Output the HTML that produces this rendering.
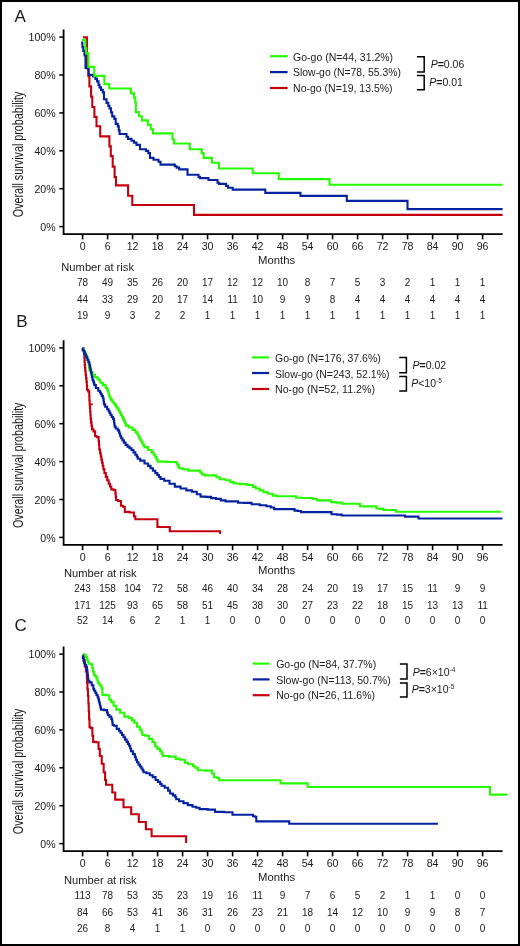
<!DOCTYPE html>
<html><head><meta charset="utf-8"><style>
html,body{margin:0;padding:0;background:#fff;}
svg text{font-family:"Liberation Sans", sans-serif;fill:#1a1a1a;}
svg{will-change:transform;}
</style></head><body>
<svg width="520" height="946" viewBox="0 0 520 946" style="display:block">
<rect x="0" y="0" width="520" height="946" fill="#fff"/>
<rect x="1" y="1" width="518" height="944" fill="none" stroke="#000" stroke-width="2"/>
<g>
<text x="14.60" y="21.80" font-size="17" text-anchor="start" >A</text>
<path d="M63.6 29.40 V234.10 H502.6" fill="none" stroke="#000" stroke-width="1.8"/>
<path d="M59.3 37.10 H63.6" stroke="#000" stroke-width="1.5"/>
<text x="55.60" y="41.40" font-size="10.6" text-anchor="end" >100%</text>
<path d="M59.3 75.00 H63.6" stroke="#000" stroke-width="1.5"/>
<text x="55.60" y="79.30" font-size="10.6" text-anchor="end" >80%</text>
<path d="M59.3 112.90 H63.6" stroke="#000" stroke-width="1.5"/>
<text x="55.60" y="117.20" font-size="10.6" text-anchor="end" >60%</text>
<path d="M59.3 150.80 H63.6" stroke="#000" stroke-width="1.5"/>
<text x="55.60" y="155.10" font-size="10.6" text-anchor="end" >40%</text>
<path d="M59.3 188.70 H63.6" stroke="#000" stroke-width="1.5"/>
<text x="55.60" y="193.00" font-size="10.6" text-anchor="end" >20%</text>
<path d="M59.3 226.60 H63.6" stroke="#000" stroke-width="1.5"/>
<text x="55.60" y="230.90" font-size="10.6" text-anchor="end" >0%</text>
<path d="M82.60 234.10 V239.40" stroke="#000" stroke-width="1.6"/>
<text x="82.60" y="250.10" font-size="10.6" text-anchor="middle" >0</text>
<path d="M107.60 234.10 V239.40" stroke="#000" stroke-width="1.6"/>
<text x="107.60" y="250.10" font-size="10.6" text-anchor="middle" >6</text>
<path d="M132.60 234.10 V239.40" stroke="#000" stroke-width="1.6"/>
<text x="132.60" y="250.10" font-size="10.6" text-anchor="middle" >12</text>
<path d="M157.60 234.10 V239.40" stroke="#000" stroke-width="1.6"/>
<text x="157.60" y="250.10" font-size="10.6" text-anchor="middle" >18</text>
<path d="M182.60 234.10 V239.40" stroke="#000" stroke-width="1.6"/>
<text x="182.60" y="250.10" font-size="10.6" text-anchor="middle" >24</text>
<path d="M207.60 234.10 V239.40" stroke="#000" stroke-width="1.6"/>
<text x="207.60" y="250.10" font-size="10.6" text-anchor="middle" >30</text>
<path d="M232.60 234.10 V239.40" stroke="#000" stroke-width="1.6"/>
<text x="232.60" y="250.10" font-size="10.6" text-anchor="middle" >36</text>
<path d="M257.60 234.10 V239.40" stroke="#000" stroke-width="1.6"/>
<text x="257.60" y="250.10" font-size="10.6" text-anchor="middle" >42</text>
<path d="M282.60 234.10 V239.40" stroke="#000" stroke-width="1.6"/>
<text x="282.60" y="250.10" font-size="10.6" text-anchor="middle" >48</text>
<path d="M307.60 234.10 V239.40" stroke="#000" stroke-width="1.6"/>
<text x="307.60" y="250.10" font-size="10.6" text-anchor="middle" >54</text>
<path d="M332.60 234.10 V239.40" stroke="#000" stroke-width="1.6"/>
<text x="332.60" y="250.10" font-size="10.6" text-anchor="middle" >60</text>
<path d="M357.60 234.10 V239.40" stroke="#000" stroke-width="1.6"/>
<text x="357.60" y="250.10" font-size="10.6" text-anchor="middle" >66</text>
<path d="M382.60 234.10 V239.40" stroke="#000" stroke-width="1.6"/>
<text x="382.60" y="250.10" font-size="10.6" text-anchor="middle" >72</text>
<path d="M407.60 234.10 V239.40" stroke="#000" stroke-width="1.6"/>
<text x="407.60" y="250.10" font-size="10.6" text-anchor="middle" >78</text>
<path d="M432.60 234.10 V239.40" stroke="#000" stroke-width="1.6"/>
<text x="432.60" y="250.10" font-size="10.6" text-anchor="middle" >84</text>
<path d="M457.60 234.10 V239.40" stroke="#000" stroke-width="1.6"/>
<text x="457.60" y="250.10" font-size="10.6" text-anchor="middle" >90</text>
<path d="M482.60 234.10 V239.40" stroke="#000" stroke-width="1.6"/>
<text x="482.60" y="250.10" font-size="10.6" text-anchor="middle" >96</text>
<text x="258.10" y="263.60" font-size="10.6" text-anchor="start" textLength="37.10" lengthAdjust="spacingAndGlyphs" >Months</text>
<text transform="translate(22.8 217.20) rotate(-90)" font-size="14" textLength="125.5" lengthAdjust="spacingAndGlyphs">Overall survival probability</text>
<text x="61.30" y="270.90" font-size="10.6" text-anchor="start" textLength="72.70" lengthAdjust="spacingAndGlyphs" >Number at risk</text>
<text x="82.60" y="285.90" font-size="10.0" text-anchor="middle" >78</text>
<text x="107.60" y="285.90" font-size="10.0" text-anchor="middle" >49</text>
<text x="132.60" y="285.90" font-size="10.0" text-anchor="middle" >35</text>
<text x="157.60" y="285.90" font-size="10.0" text-anchor="middle" >26</text>
<text x="182.60" y="285.90" font-size="10.0" text-anchor="middle" >20</text>
<text x="207.60" y="285.90" font-size="10.0" text-anchor="middle" >17</text>
<text x="232.60" y="285.90" font-size="10.0" text-anchor="middle" >12</text>
<text x="257.60" y="285.90" font-size="10.0" text-anchor="middle" >12</text>
<text x="282.60" y="285.90" font-size="10.0" text-anchor="middle" >10</text>
<text x="307.60" y="285.90" font-size="10.0" text-anchor="middle" >8</text>
<text x="332.60" y="285.90" font-size="10.0" text-anchor="middle" >7</text>
<text x="357.60" y="285.90" font-size="10.0" text-anchor="middle" >5</text>
<text x="382.60" y="285.90" font-size="10.0" text-anchor="middle" >3</text>
<text x="407.60" y="285.90" font-size="10.0" text-anchor="middle" >2</text>
<text x="432.60" y="285.90" font-size="10.0" text-anchor="middle" >1</text>
<text x="457.60" y="285.90" font-size="10.0" text-anchor="middle" >1</text>
<text x="482.60" y="285.90" font-size="10.0" text-anchor="middle" >1</text>
<text x="82.60" y="303.40" font-size="10.0" text-anchor="middle" >44</text>
<text x="107.60" y="303.40" font-size="10.0" text-anchor="middle" >33</text>
<text x="132.60" y="303.40" font-size="10.0" text-anchor="middle" >29</text>
<text x="157.60" y="303.40" font-size="10.0" text-anchor="middle" >20</text>
<text x="182.60" y="303.40" font-size="10.0" text-anchor="middle" >17</text>
<text x="207.60" y="303.40" font-size="10.0" text-anchor="middle" >14</text>
<text x="232.60" y="303.40" font-size="10.0" text-anchor="middle" >11</text>
<text x="257.60" y="303.40" font-size="10.0" text-anchor="middle" >10</text>
<text x="282.60" y="303.40" font-size="10.0" text-anchor="middle" >9</text>
<text x="307.60" y="303.40" font-size="10.0" text-anchor="middle" >9</text>
<text x="332.60" y="303.40" font-size="10.0" text-anchor="middle" >8</text>
<text x="357.60" y="303.40" font-size="10.0" text-anchor="middle" >4</text>
<text x="382.60" y="303.40" font-size="10.0" text-anchor="middle" >4</text>
<text x="407.60" y="303.40" font-size="10.0" text-anchor="middle" >4</text>
<text x="432.60" y="303.40" font-size="10.0" text-anchor="middle" >4</text>
<text x="457.60" y="303.40" font-size="10.0" text-anchor="middle" >4</text>
<text x="482.60" y="303.40" font-size="10.0" text-anchor="middle" >4</text>
<text x="82.60" y="319.00" font-size="10.0" text-anchor="middle" >19</text>
<text x="107.60" y="319.00" font-size="10.0" text-anchor="middle" >9</text>
<text x="132.60" y="319.00" font-size="10.0" text-anchor="middle" >3</text>
<text x="157.60" y="319.00" font-size="10.0" text-anchor="middle" >2</text>
<text x="182.60" y="319.00" font-size="10.0" text-anchor="middle" >2</text>
<text x="207.60" y="319.00" font-size="10.0" text-anchor="middle" >1</text>
<text x="232.60" y="319.00" font-size="10.0" text-anchor="middle" >1</text>
<text x="257.60" y="319.00" font-size="10.0" text-anchor="middle" >1</text>
<text x="282.60" y="319.00" font-size="10.0" text-anchor="middle" >1</text>
<text x="307.60" y="319.00" font-size="10.0" text-anchor="middle" >1</text>
<text x="332.60" y="319.00" font-size="10.0" text-anchor="middle" >1</text>
<text x="357.60" y="319.00" font-size="10.0" text-anchor="middle" >1</text>
<text x="382.60" y="319.00" font-size="10.0" text-anchor="middle" >1</text>
<text x="407.60" y="319.00" font-size="10.0" text-anchor="middle" >1</text>
<text x="432.60" y="319.00" font-size="10.0" text-anchor="middle" >1</text>
<text x="457.60" y="319.00" font-size="10.0" text-anchor="middle" >1</text>
<text x="482.60" y="319.00" font-size="10.0" text-anchor="middle" >1</text>
<path d="M270.0 56.2 H287.6" stroke="#26fc00" stroke-width="2.2"/>
<text x="293.10" y="60.50" font-size="10.5" text-anchor="start" textLength="100.00" lengthAdjust="spacingAndGlyphs" >Go-go (N=44, 31.2%)</text>
<path d="M270.0 72.1 H287.6" stroke="#0522a0" stroke-width="2.2"/>
<text x="293.10" y="76.10" font-size="10.5" text-anchor="start" textLength="107.80" lengthAdjust="spacingAndGlyphs" >Slow-go (N=78, 55.3%)</text>
<path d="M270.0 88.0 H287.6" stroke="#c4000f" stroke-width="2.2"/>
<text x="293.10" y="91.80" font-size="10.5" text-anchor="start" textLength="99.50" lengthAdjust="spacingAndGlyphs" >No-go (N=19, 13.5%)</text>
<path d="M416.9 56.8 H424.2 V71.9 H416.9" fill="none" stroke="#000" stroke-width="1.5"/>
<path d="M416.9 75.4 H424.2 V89.7 H416.9" fill="none" stroke="#000" stroke-width="1.5"/>
<text x="430.7" y="67.7" font-size="10.5"><tspan font-style="italic">P</tspan><tspan font-weight="bold">=</tspan><tspan>0.06</tspan></text>
<text x="429.3" y="85.5" font-size="10.5"><tspan font-style="italic">P</tspan><tspan font-weight="bold">=</tspan><tspan>0.01</tspan></text>
<g transform="translate(0 0.4)">
<path d="M83 37 H87 V68 H88.5 V76 H89.4 V86 H91.1 V96.2 H92.3 V106.6 H94.4 V116.5 H96.5 V125.8 H100.2 V136 H109.4 V146 H110.8 V155.7 H112.7 V166.2 H114.6 V176.7 H116 V185 H128.1 V195.3 H132.3 V204.6 H194 V214.5 H502.6" fill="none" stroke="#c4000f" stroke-width="2.1" stroke-linejoin="miter" stroke-linecap="butt"/>
<path d="M81.2 42.2 H82.4 V46.7 H83.3 V50.5 H84.5 V55 H85.5 V67.5 H88.5 V74.5 H93 V76 H95.5 V78.5 H97 V81 H98.5 V84.5 H99.5 V87 H101 V89.5 H102.8 V92 H104 V98.8 H106.5 V102.5 H108.3 V105.5 H109.5 V108 H111 V112 H112.2 V116 H114.3 V118.5 H115.7 V123.5 H117.8 V126 H118.8 V130 H119.6 V133.6 H126.5 V136.3 H128 V138.5 H131.5 V140.3 H134 V142.2 H136.5 V144.5 H140 V148.8 H146 V150.5 H148.3 V152.7 H150 V157.5 H153.5 V159.4 H158.5 V161.3 H160.5 V164.2 H174.8 V165.8 H176.7 V167.2 H179.2 V169 H187.5 V174.4 H198.5 V176.5 H200 V177.7 H208.5 V179.6 H217.5 V182.3 H219 V183.5 H226 V185.5 H228 V187.3 H232.7 V189.2 H265.3 V192.5 H300.5 V195.5 H346.8 V200.5 H407.5 V208.7 H502.6" fill="none" stroke="#0522a0" stroke-width="2.1" stroke-linejoin="miter" stroke-linecap="butt"/>
<path d="M81.8 39.6 H85.3 V48 H86.3 V53 H88.4 V66.5 H94.3 V75.5 H104.4 V83.7 H109.3 V88.1 H130.9 V93 H134 V97 H135.2 V102 H135.9 V111.7 H139 V115.8 H141.9 V120 H147.9 V124.5 H150.8 V128.8 H153 V133 H172.5 V138.8 H173.9 V143.1 H189.8 V148.8 H201.7 V152.7 H203.7 V157.5 H211.9 V162.3 H219 V168.1 H252.7 V172.9 H278.8 V178.7 H329.5 V184.3 H502.6" fill="none" stroke="#26fc00" stroke-width="2.1" stroke-linejoin="miter" stroke-linecap="butt"/>
</g>
</g>
<g>
<text x="16.20" y="327.00" font-size="17" text-anchor="start" >B</text>
<path d="M63.6 340.20 V544.90 H502.6" fill="none" stroke="#000" stroke-width="1.8"/>
<path d="M59.3 347.90 H63.6" stroke="#000" stroke-width="1.5"/>
<text x="55.60" y="352.20" font-size="10.6" text-anchor="end" >100%</text>
<path d="M59.3 385.80 H63.6" stroke="#000" stroke-width="1.5"/>
<text x="55.60" y="390.10" font-size="10.6" text-anchor="end" >80%</text>
<path d="M59.3 423.70 H63.6" stroke="#000" stroke-width="1.5"/>
<text x="55.60" y="428.00" font-size="10.6" text-anchor="end" >60%</text>
<path d="M59.3 461.60 H63.6" stroke="#000" stroke-width="1.5"/>
<text x="55.60" y="465.90" font-size="10.6" text-anchor="end" >40%</text>
<path d="M59.3 499.50 H63.6" stroke="#000" stroke-width="1.5"/>
<text x="55.60" y="503.80" font-size="10.6" text-anchor="end" >20%</text>
<path d="M59.3 537.40 H63.6" stroke="#000" stroke-width="1.5"/>
<text x="55.60" y="541.70" font-size="10.6" text-anchor="end" >0%</text>
<path d="M82.60 544.90 V550.20" stroke="#000" stroke-width="1.6"/>
<text x="82.60" y="560.90" font-size="10.6" text-anchor="middle" >0</text>
<path d="M107.60 544.90 V550.20" stroke="#000" stroke-width="1.6"/>
<text x="107.60" y="560.90" font-size="10.6" text-anchor="middle" >6</text>
<path d="M132.60 544.90 V550.20" stroke="#000" stroke-width="1.6"/>
<text x="132.60" y="560.90" font-size="10.6" text-anchor="middle" >12</text>
<path d="M157.60 544.90 V550.20" stroke="#000" stroke-width="1.6"/>
<text x="157.60" y="560.90" font-size="10.6" text-anchor="middle" >18</text>
<path d="M182.60 544.90 V550.20" stroke="#000" stroke-width="1.6"/>
<text x="182.60" y="560.90" font-size="10.6" text-anchor="middle" >24</text>
<path d="M207.60 544.90 V550.20" stroke="#000" stroke-width="1.6"/>
<text x="207.60" y="560.90" font-size="10.6" text-anchor="middle" >30</text>
<path d="M232.60 544.90 V550.20" stroke="#000" stroke-width="1.6"/>
<text x="232.60" y="560.90" font-size="10.6" text-anchor="middle" >36</text>
<path d="M257.60 544.90 V550.20" stroke="#000" stroke-width="1.6"/>
<text x="257.60" y="560.90" font-size="10.6" text-anchor="middle" >42</text>
<path d="M282.60 544.90 V550.20" stroke="#000" stroke-width="1.6"/>
<text x="282.60" y="560.90" font-size="10.6" text-anchor="middle" >48</text>
<path d="M307.60 544.90 V550.20" stroke="#000" stroke-width="1.6"/>
<text x="307.60" y="560.90" font-size="10.6" text-anchor="middle" >54</text>
<path d="M332.60 544.90 V550.20" stroke="#000" stroke-width="1.6"/>
<text x="332.60" y="560.90" font-size="10.6" text-anchor="middle" >60</text>
<path d="M357.60 544.90 V550.20" stroke="#000" stroke-width="1.6"/>
<text x="357.60" y="560.90" font-size="10.6" text-anchor="middle" >66</text>
<path d="M382.60 544.90 V550.20" stroke="#000" stroke-width="1.6"/>
<text x="382.60" y="560.90" font-size="10.6" text-anchor="middle" >72</text>
<path d="M407.60 544.90 V550.20" stroke="#000" stroke-width="1.6"/>
<text x="407.60" y="560.90" font-size="10.6" text-anchor="middle" >78</text>
<path d="M432.60 544.90 V550.20" stroke="#000" stroke-width="1.6"/>
<text x="432.60" y="560.90" font-size="10.6" text-anchor="middle" >84</text>
<path d="M457.60 544.90 V550.20" stroke="#000" stroke-width="1.6"/>
<text x="457.60" y="560.90" font-size="10.6" text-anchor="middle" >90</text>
<path d="M482.60 544.90 V550.20" stroke="#000" stroke-width="1.6"/>
<text x="482.60" y="560.90" font-size="10.6" text-anchor="middle" >96</text>
<text x="258.10" y="574.40" font-size="10.6" text-anchor="start" textLength="37.10" lengthAdjust="spacingAndGlyphs" >Months</text>
<text transform="translate(22.8 528.00) rotate(-90)" font-size="14" textLength="125.5" lengthAdjust="spacingAndGlyphs">Overall survival probability</text>
<text x="64.00" y="576.50" font-size="10.6" text-anchor="start" textLength="72.70" lengthAdjust="spacingAndGlyphs" >Number at risk</text>
<text x="82.60" y="591.50" font-size="10.0" text-anchor="middle" >243</text>
<text x="107.60" y="591.50" font-size="10.0" text-anchor="middle" >158</text>
<text x="132.60" y="591.50" font-size="10.0" text-anchor="middle" >104</text>
<text x="157.60" y="591.50" font-size="10.0" text-anchor="middle" >72</text>
<text x="182.60" y="591.50" font-size="10.0" text-anchor="middle" >58</text>
<text x="207.60" y="591.50" font-size="10.0" text-anchor="middle" >46</text>
<text x="232.60" y="591.50" font-size="10.0" text-anchor="middle" >40</text>
<text x="257.60" y="591.50" font-size="10.0" text-anchor="middle" >34</text>
<text x="282.60" y="591.50" font-size="10.0" text-anchor="middle" >28</text>
<text x="307.60" y="591.50" font-size="10.0" text-anchor="middle" >24</text>
<text x="332.60" y="591.50" font-size="10.0" text-anchor="middle" >20</text>
<text x="357.60" y="591.50" font-size="10.0" text-anchor="middle" >19</text>
<text x="382.60" y="591.50" font-size="10.0" text-anchor="middle" >17</text>
<text x="407.60" y="591.50" font-size="10.0" text-anchor="middle" >15</text>
<text x="432.60" y="591.50" font-size="10.0" text-anchor="middle" >11</text>
<text x="457.60" y="591.50" font-size="10.0" text-anchor="middle" >9</text>
<text x="482.60" y="591.50" font-size="10.0" text-anchor="middle" >9</text>
<text x="82.60" y="609.00" font-size="10.0" text-anchor="middle" >171</text>
<text x="107.60" y="609.00" font-size="10.0" text-anchor="middle" >125</text>
<text x="132.60" y="609.00" font-size="10.0" text-anchor="middle" >93</text>
<text x="157.60" y="609.00" font-size="10.0" text-anchor="middle" >65</text>
<text x="182.60" y="609.00" font-size="10.0" text-anchor="middle" >58</text>
<text x="207.60" y="609.00" font-size="10.0" text-anchor="middle" >51</text>
<text x="232.60" y="609.00" font-size="10.0" text-anchor="middle" >45</text>
<text x="257.60" y="609.00" font-size="10.0" text-anchor="middle" >38</text>
<text x="282.60" y="609.00" font-size="10.0" text-anchor="middle" >30</text>
<text x="307.60" y="609.00" font-size="10.0" text-anchor="middle" >27</text>
<text x="332.60" y="609.00" font-size="10.0" text-anchor="middle" >23</text>
<text x="357.60" y="609.00" font-size="10.0" text-anchor="middle" >22</text>
<text x="382.60" y="609.00" font-size="10.0" text-anchor="middle" >18</text>
<text x="407.60" y="609.00" font-size="10.0" text-anchor="middle" >15</text>
<text x="432.60" y="609.00" font-size="10.0" text-anchor="middle" >13</text>
<text x="457.60" y="609.00" font-size="10.0" text-anchor="middle" >13</text>
<text x="482.60" y="609.00" font-size="10.0" text-anchor="middle" >11</text>
<text x="82.60" y="624.40" font-size="10.0" text-anchor="middle" >52</text>
<text x="107.60" y="624.40" font-size="10.0" text-anchor="middle" >14</text>
<text x="132.60" y="624.40" font-size="10.0" text-anchor="middle" >6</text>
<text x="157.60" y="624.40" font-size="10.0" text-anchor="middle" >2</text>
<text x="182.60" y="624.40" font-size="10.0" text-anchor="middle" >1</text>
<text x="207.60" y="624.40" font-size="10.0" text-anchor="middle" >1</text>
<text x="232.60" y="624.40" font-size="10.0" text-anchor="middle" >0</text>
<text x="257.60" y="624.40" font-size="10.0" text-anchor="middle" >0</text>
<text x="282.60" y="624.40" font-size="10.0" text-anchor="middle" >0</text>
<text x="307.60" y="624.40" font-size="10.0" text-anchor="middle" >0</text>
<text x="332.60" y="624.40" font-size="10.0" text-anchor="middle" >0</text>
<text x="357.60" y="624.40" font-size="10.0" text-anchor="middle" >0</text>
<text x="382.60" y="624.40" font-size="10.0" text-anchor="middle" >0</text>
<text x="407.60" y="624.40" font-size="10.0" text-anchor="middle" >0</text>
<text x="432.60" y="624.40" font-size="10.0" text-anchor="middle" >0</text>
<text x="457.60" y="624.40" font-size="10.0" text-anchor="middle" >0</text>
<text x="482.60" y="624.40" font-size="10.0" text-anchor="middle" >0</text>
<path d="M252.0 357.4 H269.2" stroke="#26fc00" stroke-width="2.2"/>
<text x="275.00" y="361.80" font-size="10.5" text-anchor="start" textLength="105.70" lengthAdjust="spacingAndGlyphs" >Go-go (N=176, 37.6%)</text>
<path d="M252.0 373.0 H269.2" stroke="#0522a0" stroke-width="2.2"/>
<text x="275.00" y="377.80" font-size="10.5" text-anchor="start" textLength="114.50" lengthAdjust="spacingAndGlyphs" >Slow-go (N=243, 52.1%)</text>
<path d="M252.0 389.0 H269.2" stroke="#c4000f" stroke-width="2.2"/>
<text x="275.00" y="393.40" font-size="10.5" text-anchor="start" textLength="100.00" lengthAdjust="spacingAndGlyphs" >No-go (N=52, 11.2%)</text>
<path d="M399.2 357.6 H406.4 V372.8 H399.2" fill="none" stroke="#000" stroke-width="1.5"/>
<path d="M399.2 376.5 H406.4 V391.0 H399.2" fill="none" stroke="#000" stroke-width="1.5"/>
<text x="412.6" y="368.8" font-size="10.5"><tspan font-style="italic">P</tspan><tspan font-weight="bold">=</tspan><tspan>0.02</tspan></text>
<text x="411.2" y="386.6" font-size="10.5"><tspan font-style="italic">P</tspan><tspan><10</tspan><tspan font-size="6.5" dy="-4">-5</tspan></text>
<g transform="translate(0 0.4)">
<path d="M83.30 347.90 H83.55V350.70 H84.05V353.50 H84.30 H84.38V357.25 H84.52V361.00 H84.60 H84.75V364.50 H85.05V368.00 H85.20 H85.35V371.15 H85.65V374.30 H85.80 H86.03V377.75 H86.47V381.20 H86.70 H86.83V385.25 H87.08V389.30 H87.20 H88.20V391.00 H89.20 H89.28V395.50 H89.42V400.00 H89.50 H89.65V404.00 H89.80 H89.92V407.62 H90.17V411.25 H90.42V414.88 H90.67V418.50 H90.80 H91.05V422.00 H91.55V425.50 H92.05V429.00 H92.30 H93.45V431.00 H94.60 H95.10V435.80 H95.60 H97.05V436.70 H98.50 H98.65V440.57 H98.95V444.43 H99.25V448.30 H99.40 H99.60V449.60 H99.80 H100.12V452.80 H100.75V456.00 H101.38V459.20 H101.70 H102.03V462.40 H102.70V465.60 H103.37V468.80 H103.70 H104.40V472.65 H105.80V476.50 H106.50 H107.22V479.90 H108.68V483.30 H109.40 H110.03V486.15 H111.28V489.00 H111.90 H113.55V489.60 H115.20 H115.37V492.93 H115.70V496.27 H116.03V499.60 H116.20 H118.10V500.60 H120.00 H120.95V505.40 H121.90 H122.85V506.30 H123.80 H124.80V511.50 H125.80 H129.65V512.10 H133.50 H133.95V516.00 H134.40 H135.35V518.90 H136.30 H157.40 V526.60 H169.80 V530.90 H220.10 V533.50" fill="none" stroke="#c4000f" stroke-width="2.1" stroke-linejoin="miter" stroke-linecap="butt"/>
<path d="M82.80 348.20 H83.29V349.98 H84.26V351.75 H85.24V353.52 H86.21V355.30 H86.70 H86.98V357.20 H87.55V359.10 H88.12V361.00 H88.40 H88.54V363.18 H88.81V365.35 H89.09V367.52 H89.36V369.70 H89.50 H90.53V372.00 H92.57V374.30 H93.60 H95.05V376.60 H96.50 H97.35V378.35 H99.05V380.10 H99.90 H100.50V382.40 H101.10 H102.80V384.70 H104.50 H105.70V387.60 H106.90 H107.20V389.10 H107.80V390.60 H108.10 H108.42V392.83 H109.05V395.07 H109.68V397.30 H110.00 H110.72V399.23 H112.17V401.15 H113.62V403.07 H115.08V405.00 H115.80 H116.43V406.93 H117.70V408.87 H118.97V410.80 H119.60 H120.09V412.73 H121.06V414.65 H122.04V416.57 H123.01V418.50 H123.50 H123.97V420.73 H124.90V422.97 H125.83V425.20 H126.30 H128.75V427.10 H131.20 H132.62V429.50 H135.47V431.90 H136.90 H137.39V433.82 H138.36V435.75 H139.34V437.68 H140.31V439.60 H140.80 H141.33V441.38 H142.38V443.15 H143.43V444.93 H144.47V446.70 H145.00 H147.90V449.60 H150.80 H151.75V452.00 H153.65V454.40 H154.60 H155.22V456.67 H156.45V458.93 H157.68V461.20 H158.30 H166.90V461.60 H175.50 H176.10V462.10 H176.70 H177.18V464.03 H178.15V465.97 H179.12V467.90 H179.60 H182.50V468.80 H185.40 H188.30V470.20 H191.20 H199.60 H200.32V472.10 H201.78V474.00 H202.50 H204.40V475.00 H206.30 H215.00 H216.45V476.90 H217.90 H219.80V478.80 H221.70 H225.55V479.80 H229.40 H230.35V481.70 H231.30 H233.75V483.10 H236.20 H240.00V483.70 H243.80 H247.65V484.60 H251.50 H252.95V486.50 H254.40 H255.85V488.10 H257.30 H259.70V490.00 H262.10 H263.55V491.90 H265.00 H267.90V493.30 H270.80 H272.70V495.20 H274.60 H276.55V495.90 H278.50 H295.60 H296.10V497.40 H296.60 H302.45V497.60 H308.30 H312.50V498.60 H316.70 H317.25V500.00 H317.80 H330.50 H331.00V501.70 H331.50 H336.25V502.20 H341.00 H341.55V503.40 H342.10 H359.00 H360.10V506.00 H361.20 H376.00 H376.50V508.10 H377.00 H379.65V508.50 H382.30 H383.35V509.60 H384.40 H395.80 H396.15V511.40 H396.50 H501.50" fill="none" stroke="#26fc00" stroke-width="2.1" stroke-linejoin="miter" stroke-linecap="butt"/>
<path d="M82.00 347.90 H82.58V349.55 H83.72V351.20 H84.30 H84.70V353.13 H85.50V355.07 H86.30V357.00 H86.70 H87.28V359.30 H88.42V361.60 H89.00 H89.28V363.90 H89.82V366.20 H90.10 H90.30V368.13 H90.70V370.07 H91.10V372.00 H91.30 H91.50V374.30 H91.90V376.60 H92.10 H92.55V379.50 H93.00 H93.28V381.23 H93.85V382.97 H94.42V384.70 H94.70 H95.85V387.60 H97.00 H98.20V390.30 H99.40 H99.89V392.05 H100.86V393.80 H101.84V395.55 H102.81V397.30 H103.30 H103.45V399.53 H103.75V401.77 H104.05V404.00 H104.20 H105.17V406.40 H107.12V408.80 H108.10 H108.58V410.73 H109.55V412.67 H110.52V414.60 H111.00 H111.70V416.55 H113.10V418.50 H113.80 H113.92V420.43 H114.17V422.35 H114.42V424.27 H114.67V426.20 H114.80 H115.78V428.10 H117.72V430.00 H118.70 H119.02V431.93 H119.65V433.87 H120.28V435.80 H120.60 H121.20V437.90 H122.40V440.00 H123.00 H123.88V442.25 H125.62V444.50 H126.50 H127.50V446.20 H129.50V447.90 H131.50V449.60 H132.50 H133.45V452.00 H135.35V454.40 H136.30 H136.80V456.35 H137.80V458.30 H138.30 H140.20V460.20 H142.10 H144.50V463.10 H146.90 H148.10V465.50 H150.50V467.90 H151.70 H152.90V470.30 H155.30V472.70 H156.50 H157.30V474.63 H158.90V476.57 H160.50V478.50 H161.30 H164.20V480.40 H167.10 H169.50V483.30 H171.90 H174.80V486.20 H177.70 H180.60V488.10 H183.50 H186.35V490.00 H189.20 H192.00V491.30 H194.80 H196.75V493.80 H198.70 H200.60V496.20 H202.50 H205.85V496.50 H209.20 H211.15V497.70 H213.10 H215.95V498.50 H218.80 H220.75V500.00 H222.70 H225.60V501.00 H228.50 H236.20 H238.10V502.30 H240.00 H243.85V502.50 H247.70 H251.55V503.80 H255.40 H259.70V504.80 H264.00 H266.40V505.80 H268.80 H270.75V507.10 H272.70 H274.15V508.70 H275.60 H293.50 H294.55V510.20 H295.60 H297.70V510.60 H299.80 H300.85V511.70 H301.90 H330.50 H331.55V513.80 H332.60 H336.80V514.20 H341.00 H341.75V515.10 H342.50 H404.30 H405.00V516.20 H405.70 H418.50 V518.10 H502.50" fill="none" stroke="#0522a0" stroke-width="2.1" stroke-linejoin="miter" stroke-linecap="butt"/>
<path d="M89 404 H92.8" fill="none" stroke="#c4000f" stroke-width="1.8"/>
</g>
</g>
<g>
<text x="14.60" y="630.90" font-size="17" text-anchor="start" >C</text>
<path d="M63.6 646.40 V851.10 H502.6" fill="none" stroke="#000" stroke-width="1.8"/>
<path d="M59.3 654.10 H63.6" stroke="#000" stroke-width="1.5"/>
<text x="55.60" y="658.40" font-size="10.6" text-anchor="end" >100%</text>
<path d="M59.3 692.00 H63.6" stroke="#000" stroke-width="1.5"/>
<text x="55.60" y="696.30" font-size="10.6" text-anchor="end" >80%</text>
<path d="M59.3 729.90 H63.6" stroke="#000" stroke-width="1.5"/>
<text x="55.60" y="734.20" font-size="10.6" text-anchor="end" >60%</text>
<path d="M59.3 767.80 H63.6" stroke="#000" stroke-width="1.5"/>
<text x="55.60" y="772.10" font-size="10.6" text-anchor="end" >40%</text>
<path d="M59.3 805.70 H63.6" stroke="#000" stroke-width="1.5"/>
<text x="55.60" y="810.00" font-size="10.6" text-anchor="end" >20%</text>
<path d="M59.3 843.60 H63.6" stroke="#000" stroke-width="1.5"/>
<text x="55.60" y="847.90" font-size="10.6" text-anchor="end" >0%</text>
<path d="M82.60 851.10 V856.40" stroke="#000" stroke-width="1.6"/>
<text x="82.60" y="867.10" font-size="10.6" text-anchor="middle" >0</text>
<path d="M107.60 851.10 V856.40" stroke="#000" stroke-width="1.6"/>
<text x="107.60" y="867.10" font-size="10.6" text-anchor="middle" >6</text>
<path d="M132.60 851.10 V856.40" stroke="#000" stroke-width="1.6"/>
<text x="132.60" y="867.10" font-size="10.6" text-anchor="middle" >12</text>
<path d="M157.60 851.10 V856.40" stroke="#000" stroke-width="1.6"/>
<text x="157.60" y="867.10" font-size="10.6" text-anchor="middle" >18</text>
<path d="M182.60 851.10 V856.40" stroke="#000" stroke-width="1.6"/>
<text x="182.60" y="867.10" font-size="10.6" text-anchor="middle" >24</text>
<path d="M207.60 851.10 V856.40" stroke="#000" stroke-width="1.6"/>
<text x="207.60" y="867.10" font-size="10.6" text-anchor="middle" >30</text>
<path d="M232.60 851.10 V856.40" stroke="#000" stroke-width="1.6"/>
<text x="232.60" y="867.10" font-size="10.6" text-anchor="middle" >36</text>
<path d="M257.60 851.10 V856.40" stroke="#000" stroke-width="1.6"/>
<text x="257.60" y="867.10" font-size="10.6" text-anchor="middle" >42</text>
<path d="M282.60 851.10 V856.40" stroke="#000" stroke-width="1.6"/>
<text x="282.60" y="867.10" font-size="10.6" text-anchor="middle" >48</text>
<path d="M307.60 851.10 V856.40" stroke="#000" stroke-width="1.6"/>
<text x="307.60" y="867.10" font-size="10.6" text-anchor="middle" >54</text>
<path d="M332.60 851.10 V856.40" stroke="#000" stroke-width="1.6"/>
<text x="332.60" y="867.10" font-size="10.6" text-anchor="middle" >60</text>
<path d="M357.60 851.10 V856.40" stroke="#000" stroke-width="1.6"/>
<text x="357.60" y="867.10" font-size="10.6" text-anchor="middle" >66</text>
<path d="M382.60 851.10 V856.40" stroke="#000" stroke-width="1.6"/>
<text x="382.60" y="867.10" font-size="10.6" text-anchor="middle" >72</text>
<path d="M407.60 851.10 V856.40" stroke="#000" stroke-width="1.6"/>
<text x="407.60" y="867.10" font-size="10.6" text-anchor="middle" >78</text>
<path d="M432.60 851.10 V856.40" stroke="#000" stroke-width="1.6"/>
<text x="432.60" y="867.10" font-size="10.6" text-anchor="middle" >84</text>
<path d="M457.60 851.10 V856.40" stroke="#000" stroke-width="1.6"/>
<text x="457.60" y="867.10" font-size="10.6" text-anchor="middle" >90</text>
<path d="M482.60 851.10 V856.40" stroke="#000" stroke-width="1.6"/>
<text x="482.60" y="867.10" font-size="10.6" text-anchor="middle" >96</text>
<text x="258.10" y="880.60" font-size="10.6" text-anchor="start" textLength="37.10" lengthAdjust="spacingAndGlyphs" >Months</text>
<text transform="translate(22.8 834.20) rotate(-90)" font-size="14" textLength="125.5" lengthAdjust="spacingAndGlyphs">Overall survival probability</text>
<text x="64.00" y="883.60" font-size="10.6" text-anchor="start" textLength="72.70" lengthAdjust="spacingAndGlyphs" >Number at risk</text>
<text x="82.60" y="898.80" font-size="10.0" text-anchor="middle" >113</text>
<text x="107.60" y="898.80" font-size="10.0" text-anchor="middle" >78</text>
<text x="132.60" y="898.80" font-size="10.0" text-anchor="middle" >53</text>
<text x="157.60" y="898.80" font-size="10.0" text-anchor="middle" >35</text>
<text x="182.60" y="898.80" font-size="10.0" text-anchor="middle" >23</text>
<text x="207.60" y="898.80" font-size="10.0" text-anchor="middle" >19</text>
<text x="232.60" y="898.80" font-size="10.0" text-anchor="middle" >16</text>
<text x="257.60" y="898.80" font-size="10.0" text-anchor="middle" >11</text>
<text x="282.60" y="898.80" font-size="10.0" text-anchor="middle" >9</text>
<text x="307.60" y="898.80" font-size="10.0" text-anchor="middle" >7</text>
<text x="332.60" y="898.80" font-size="10.0" text-anchor="middle" >6</text>
<text x="357.60" y="898.80" font-size="10.0" text-anchor="middle" >5</text>
<text x="382.60" y="898.80" font-size="10.0" text-anchor="middle" >2</text>
<text x="407.60" y="898.80" font-size="10.0" text-anchor="middle" >1</text>
<text x="432.60" y="898.80" font-size="10.0" text-anchor="middle" >1</text>
<text x="457.60" y="898.80" font-size="10.0" text-anchor="middle" >0</text>
<text x="482.60" y="898.80" font-size="10.0" text-anchor="middle" >0</text>
<text x="82.60" y="916.40" font-size="10.0" text-anchor="middle" >84</text>
<text x="107.60" y="916.40" font-size="10.0" text-anchor="middle" >66</text>
<text x="132.60" y="916.40" font-size="10.0" text-anchor="middle" >53</text>
<text x="157.60" y="916.40" font-size="10.0" text-anchor="middle" >41</text>
<text x="182.60" y="916.40" font-size="10.0" text-anchor="middle" >36</text>
<text x="207.60" y="916.40" font-size="10.0" text-anchor="middle" >31</text>
<text x="232.60" y="916.40" font-size="10.0" text-anchor="middle" >26</text>
<text x="257.60" y="916.40" font-size="10.0" text-anchor="middle" >23</text>
<text x="282.60" y="916.40" font-size="10.0" text-anchor="middle" >21</text>
<text x="307.60" y="916.40" font-size="10.0" text-anchor="middle" >18</text>
<text x="332.60" y="916.40" font-size="10.0" text-anchor="middle" >14</text>
<text x="357.60" y="916.40" font-size="10.0" text-anchor="middle" >12</text>
<text x="382.60" y="916.40" font-size="10.0" text-anchor="middle" >10</text>
<text x="407.60" y="916.40" font-size="10.0" text-anchor="middle" >9</text>
<text x="432.60" y="916.40" font-size="10.0" text-anchor="middle" >9</text>
<text x="457.60" y="916.40" font-size="10.0" text-anchor="middle" >8</text>
<text x="482.60" y="916.40" font-size="10.0" text-anchor="middle" >7</text>
<text x="82.60" y="931.70" font-size="10.0" text-anchor="middle" >26</text>
<text x="107.60" y="931.70" font-size="10.0" text-anchor="middle" >8</text>
<text x="132.60" y="931.70" font-size="10.0" text-anchor="middle" >4</text>
<text x="157.60" y="931.70" font-size="10.0" text-anchor="middle" >1</text>
<text x="182.60" y="931.70" font-size="10.0" text-anchor="middle" >1</text>
<text x="207.60" y="931.70" font-size="10.0" text-anchor="middle" >0</text>
<text x="232.60" y="931.70" font-size="10.0" text-anchor="middle" >0</text>
<text x="257.60" y="931.70" font-size="10.0" text-anchor="middle" >0</text>
<text x="282.60" y="931.70" font-size="10.0" text-anchor="middle" >0</text>
<text x="307.60" y="931.70" font-size="10.0" text-anchor="middle" >0</text>
<text x="332.60" y="931.70" font-size="10.0" text-anchor="middle" >0</text>
<text x="357.60" y="931.70" font-size="10.0" text-anchor="middle" >0</text>
<text x="382.60" y="931.70" font-size="10.0" text-anchor="middle" >0</text>
<text x="407.60" y="931.70" font-size="10.0" text-anchor="middle" >0</text>
<text x="432.60" y="931.70" font-size="10.0" text-anchor="middle" >0</text>
<text x="457.60" y="931.70" font-size="10.0" text-anchor="middle" >0</text>
<text x="482.60" y="931.70" font-size="10.0" text-anchor="middle" >0</text>
<path d="M252.7 663.6 H269.6" stroke="#26fc00" stroke-width="2.2"/>
<text x="276.20" y="668.20" font-size="10.5" text-anchor="start" textLength="100.00" lengthAdjust="spacingAndGlyphs" >Go-go (N=84, 37.7%)</text>
<path d="M252.7 679.4 H269.6" stroke="#0522a0" stroke-width="2.2"/>
<text x="276.20" y="683.90" font-size="10.5" text-anchor="start" textLength="114.50" lengthAdjust="spacingAndGlyphs" >Slow-go (N=113, 50.7%)</text>
<path d="M252.7 695.2 H269.6" stroke="#c4000f" stroke-width="2.2"/>
<text x="276.20" y="699.40" font-size="10.5" text-anchor="start" textLength="98.80" lengthAdjust="spacingAndGlyphs" >No-go (N=26, 11.6%)</text>
<path d="M399.9 663.9 H407.0 V679.0 H399.9" fill="none" stroke="#000" stroke-width="1.5"/>
<path d="M399.9 682.9 H407.0 V697.1 H399.9" fill="none" stroke="#000" stroke-width="1.5"/>
<text x="412.7" y="675.8" font-size="10.5"><tspan font-style="italic">P</tspan><tspan font-weight="bold">=</tspan><tspan>6×10</tspan><tspan font-size="6.5" dy="-4">-4</tspan></text>
<text x="411.7" y="693.1" font-size="10.5"><tspan font-style="italic">P</tspan><tspan font-weight="bold">=</tspan><tspan>3×10</tspan><tspan font-size="6.5" dy="-4">-5</tspan></text>
<g transform="translate(0 0.4)">
<path d="M83.30 654.20 H83.80V660.00 H84.30 H84.75V666.00 H85.20 H85.95V671.00 H86.70 H86.83V676.80 H87.08V682.60 H87.20 H87.45V689.00 H87.95V695.40 H88.20 H88.38V703.10 H88.73V710.80 H88.90 H89.10V718.85 H89.50V726.90 H89.70 H90.85V727.70 H92.00 H92.40V735.40 H92.80 H93.15V741.50 H93.50 H95.85V741.80 H98.20 H98.55V748.50 H98.90 H99.85V755.60 H100.80 H101.75V763.30 H102.70 H103.65V771.90 H104.60 H105.10V779.60 H105.60 H106.05V784.40 H106.50 H112.30 V792.10 H115.20 V799.20 H123.50 V806.90 H131.20 V813.80 H138.80 V821.60 H145.90 V828.80 H151.60 V835.80 H186.10 V842.70" fill="none" stroke="#c4000f" stroke-width="2.1" stroke-linejoin="miter" stroke-linecap="butt"/>
<path d="M83.00 654.20 H83.95V654.50 H84.90 H85.80V656.70 H86.70 H87.05V659.00 H87.75V661.30 H88.10 H88.80V663.30 H89.50 H90.80V663.90 H92.10 H92.25V667.60 H92.40 H93.00V671.10 H93.60 H93.90V674.30 H94.20 H95.05V675.70 H95.90 H96.45V678.00 H97.00 H97.38V680.30 H98.12V682.60 H98.50 H99.50V684.90 H100.50 H101.35V687.50 H102.20 H102.28V691.00 H102.42V694.50 H102.50 H105.70V694.80 H108.90 H109.30V699.20 H109.70 H111.25V701.50 H112.80 H113.55V705.40 H114.30 H116.25V709.20 H118.20 H120.10V712.30 H122.00 H124.30V716.20 H126.60 H128.90V717.70 H131.20 H132.00V720.00 H132.80 H134.30V722.30 H135.80 H137.00V726.20 H138.20 H139.70V729.20 H141.20 H141.60V731.90 H142.40V734.60 H142.80 H145.10V735.40 H147.40 H148.95V738.50 H150.50 H152.40V741.50 H154.30 H154.68V743.85 H155.43V746.20 H155.80 H157.35V748.50 H158.90 H160.10V750.80 H161.30 H161.80V753.20 H162.80V755.60 H163.30 H169.05V756.20 H174.80 H175.75V758.50 H176.70 H180.10V759.40 H183.50 H184.90V762.30 H186.30 H188.25V763.80 H190.20 H192.30 H193.05V765.80 H193.80 H195.25V767.30 H196.70 H197.70V769.90 H198.70 H204.95V770.20 H211.20 H212.15V773.10 H213.10 H214.05V776.90 H215.00 H216.90V777.50 H218.80 H219.00V779.80 H219.20 H280.60 V783.00 H307.70 V786.60 H490.00 V794.20 H507.50" fill="none" stroke="#26fc00" stroke-width="2.1" stroke-linejoin="miter" stroke-linecap="butt"/>
<path d="M82.60 655.20 H82.88V657.60 H83.45V660.00 H84.02V662.40 H84.30 H84.90V664.45 H86.10V666.50 H86.70 H86.90V669.35 H87.30V672.20 H87.50 H87.65V674.90 H87.95V677.60 H88.25V680.30 H88.40 H89.40V682.00 H90.40 H91.70V684.90 H93.00 H93.30V688.40 H93.60 H94.15V690.35 H95.25V692.30 H95.80 H96.40V694.60 H97.60V696.90 H98.20 H98.45V698.97 H98.95V701.03 H99.45V703.10 H99.70 H99.95V705.13 H100.45V707.17 H100.95V709.20 H101.20 H103.90V709.70 H106.60 H107.00V712.15 H107.80V714.60 H108.20 H109.35V716.20 H110.50 H111.25V718.50 H112.00 H112.13V720.53 H112.40V722.57 H112.67V724.60 H112.80 H113.95V725.40 H115.10 H116.65V728.50 H118.20 H118.95V730.40 H120.45V732.30 H121.20 H121.97V734.60 H123.53V736.90 H124.30 H125.08V739.20 H126.62V741.50 H127.40 H127.97V743.45 H129.12V745.40 H129.70 H130.15V748.10 H131.05V750.80 H131.50 H132.95V753.70 H134.40 H134.88V756.55 H135.83V759.40 H136.30 H137.03V761.80 H138.47V764.20 H139.20 H139.92V766.15 H141.38V768.10 H142.10 H142.57V770.00 H143.53V771.90 H144.00 H146.40V772.90 H148.80 H149.80V774.80 H150.80 H152.70V776.70 H154.60 H155.55V779.60 H156.50 H157.95V781.50 H159.40 H160.12V783.45 H161.58V785.40 H162.30 H164.70V787.30 H167.10 H168.05V790.20 H169.00 H170.00V793.10 H171.00 H172.90V795.00 H174.80 H175.28V796.90 H176.22V798.80 H176.70 H179.10V800.80 H181.50 H183.45V802.70 H185.40 H187.80V804.70 H190.20 H192.50V806.30 H194.80 H196.25V807.30 H197.70 H199.60V808.70 H201.50 H207.75V809.20 H214.00 H215.00V811.50 H216.00 H224.25V811.90 H232.50 V814.40 H252.50 H253.00V815.80 H253.50 H254.90V816.30 H256.30 V821.00 H289.20 V823.30 H438.00" fill="none" stroke="#0522a0" stroke-width="2.1" stroke-linejoin="miter" stroke-linecap="butt"/>
</g>
</g>
</svg>
</body></html>
